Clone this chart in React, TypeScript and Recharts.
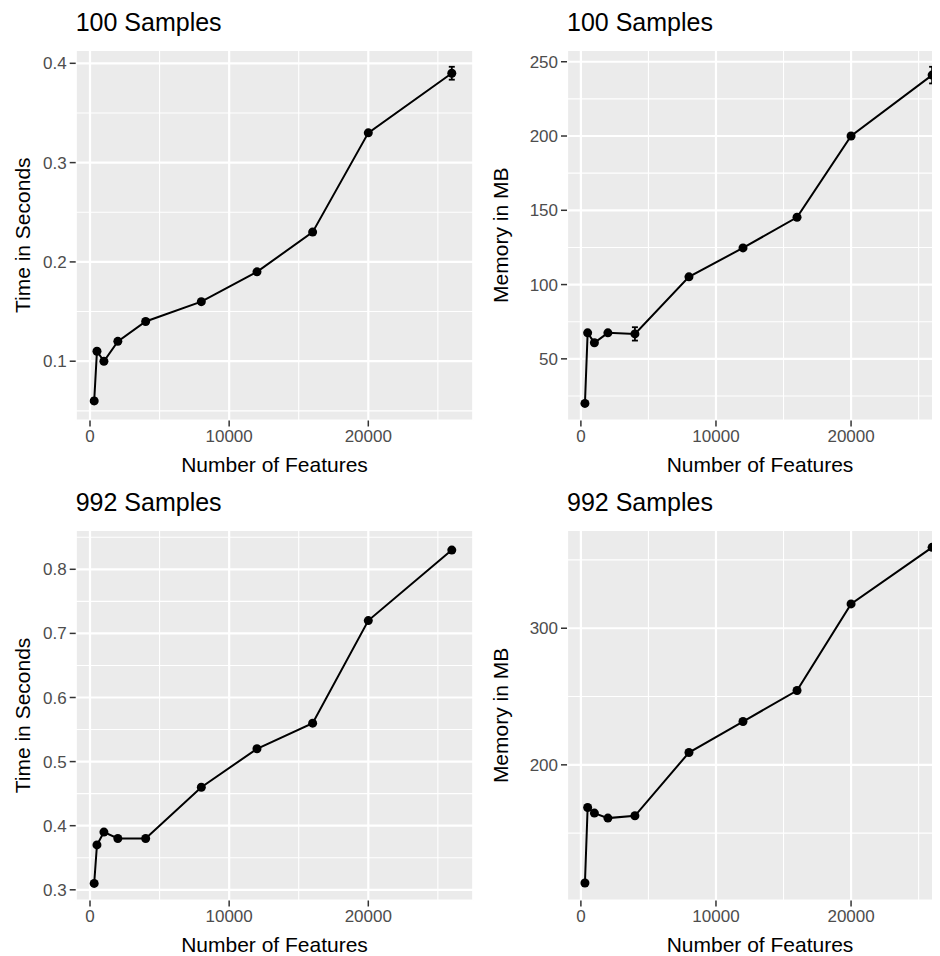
import React from 'react';
import { LineChart, Line, XAxis, YAxis, CartesianGrid, ErrorBar } from 'recharts';

// ---- data ----
const features = [300, 500, 1000, 2000, 4000, 8000, 12000, 16000, 20000, 26000];

const time100 = [0.06, 0.11, 0.1, 0.12, 0.14, 0.16, 0.19, 0.23, 0.33, 0.39];
const time100Err = [0.0025, 0.002, 0.002, 0.002, 0.002, 0.002, 0.002, 0.002, 0.002, 0.0065];

const mem100 = [20, 67.5, 60.8, 67.5, 66.8, 105.2, 124.7, 145.3, 200, 241];
const mem100Err = [0.5, 1, 1, 1, 4.5, 1, 1, 1, 1, 5.6];

const time992 = [0.31, 0.37, 0.39, 0.38, 0.38, 0.46, 0.52, 0.56, 0.72, 0.83];
const time992Err = [0.001, 0.002, 0.002, 0.002, 0.002, 0.002, 0.002, 0.002, 0.002, 0.002];

const mem992 = [113.5, 168.8, 164.7, 161, 162.7, 209, 231.7, 254.4, 317.8, 359.2];
const mem992Err = [0.5, 0.5, 0.5, 0.5, 0.5, 0.5, 0.5, 0.5, 0.5, 0.4];

const xTicks = [0, 10000, 20000];
const xMinorTicks = [5000, 15000, 25000];

const time100Ticks = [0.1, 0.2, 0.3, 0.4];
const time100Minor = [0.05, 0.15, 0.25, 0.35];
const mem100Ticks = [50, 100, 150, 200, 250];
const mem100Minor = [25, 75, 125, 175, 225];
const time992Ticks = [0.3, 0.4, 0.5, 0.6, 0.7, 0.8];
const time992Minor = [0.35, 0.45, 0.55, 0.65, 0.75, 0.85];
const mem992Ticks = [200, 300];
const mem992Minor = [150, 250, 350];

const titles = ['100 Samples', '100 Samples', '992 Samples', '992 Samples'];
const xTitle = 'Number of Features';
const yTitles = ['Time in Seconds', 'Memory in MB', 'Time in Seconds', 'Memory in MB'];

// ---- layout / style ----
const FONT = '"Liberation Sans", Arial, Helvetica, sans-serif';
const xDomain: [number, number] = [-1028, 27546];
const tickStyle = { fontSize: 17, fill: '#4D4D4D', fontFamily: FONT };
const tickLineStyle = { stroke: '#333333', strokeWidth: 1.5 };

type PanelProps = {
  values: number[];
  errors: number[];
  yDomain: [number, number];
  yTicks: number[];
  yMinor: number[];
  left: number;
  top: number;
  yAxisWidth: number;
  plotWidth: number;
};

function Panel({ values, errors, yDomain, yTicks, yMinor, left, top, yAxisWidth, plotWidth }: PanelProps) {
  const data = features.map((x, i) => ({ x, y: values[i], err: errors[i] }));
  const width = 480;
  const height = 480.5;
  return (
    <div style={{ position: 'absolute', left, top, width, height }}>
      <LineChart
        width={width}
        height={height}
        data={data}
        margin={{ top: 50, right: width - yAxisWidth - plotWidth, bottom: 0, left: 0 }}
      >
        <CartesianGrid fill="#EBEBEB" stroke="#FFFFFF" strokeWidth={2.2} />
        <CartesianGrid xAxisId="minor" yAxisId="minor" stroke="#FFFFFF" strokeWidth={1.1} />
        <XAxis
          dataKey="x"
          type="number"
          domain={xDomain}
          ticks={xTicks}
          allowDataOverflow
          interval={0}
          axisLine={false}
          tickLine={tickLineStyle}
          tickSize={6}
          tickMargin={3}
          height={60}
          tick={tickStyle}
        />
        <XAxis xAxisId="minor" dataKey="x" type="number" domain={xDomain} ticks={xMinorTicks} allowDataOverflow hide />
        <YAxis
          type="number"
          domain={yDomain}
          ticks={yTicks}
          allowDataOverflow
          interval={0}
          axisLine={false}
          tickLine={tickLineStyle}
          tickSize={6}
          tickMargin={3}
          width={yAxisWidth}
          tick={tickStyle}
        />
        <YAxis yAxisId="minor" type="number" domain={yDomain} ticks={yMinor} allowDataOverflow hide />
        <Line
          dataKey="y"
          type="linear"
          stroke="#000000"
          strokeWidth={2}
          dot={{ r: 4.5, fill: '#000000', stroke: '#000000', strokeWidth: 0 }}
          activeDot={false}
          isAnimationActive={false}
        >
          <ErrorBar dataKey="err" width={3} stroke="#000000" strokeWidth={1.8} direction="y" />
        </Line>
      </LineChart>
    </div>
  );
}

const rowTop = [0, 480.2];
const colLeft = [0, 480];
const colAxisWidth = [75.7, 87];
const colPlotWidth = [397.6, 386];

export default function App() {
  const plotCenterX = [75.7 + 397.6 / 2, 480 + 87 + 386 / 2];
  const plotLeft = [75.7, 567];
  const panelCenterY = [50 + 370.5 / 2, 480.2 + 50 + 370.5 / 2];
  const yTitleX = [29.5, 508.3];
  return (
    <div
      style={{
        position: 'relative',
        width: 940,
        height: 956,
        margin: '-8px 0 0 -8px',
        overflow: 'hidden',
        background: '#FFFFFF',
        fontFamily: FONT,
      }}
    >
      <Panel values={time100} errors={time100Err} yDomain={[0.0403, 0.4134]} yTicks={time100Ticks} yMinor={time100Minor}
        left={colLeft[0]} top={rowTop[0]} yAxisWidth={colAxisWidth[0]} plotWidth={colPlotWidth[0]} />
      <Panel values={mem100} errors={mem100Err} yDomain={[8.5, 257.9]} yTicks={mem100Ticks} yMinor={mem100Minor}
        left={colLeft[1]} top={rowTop[0]} yAxisWidth={colAxisWidth[1]} plotWidth={colPlotWidth[1]} />
      <Panel values={time992} errors={time992Err} yDomain={[0.2833, 0.8613]} yTicks={time992Ticks} yMinor={time992Minor}
        left={colLeft[0]} top={rowTop[1]} yAxisWidth={colAxisWidth[0]} plotWidth={colPlotWidth[0]} />
      <Panel values={mem992} errors={mem992Err} yDomain={[100.7, 371.9]} yTicks={mem992Ticks} yMinor={mem992Minor}
        left={colLeft[1]} top={rowTop[1]} yAxisWidth={colAxisWidth[1]} plotWidth={colPlotWidth[1]} />
      <svg width={940} height={956} style={{ position: 'absolute', left: 0, top: 0, pointerEvents: 'none' }}>
        {[0, 1].map((r) =>
          [0, 1].map((c) => {
            const idx = r * 2 + c;
            return (
              <g key={idx} fontFamily={FONT}>
                <text x={plotLeft[c]} y={rowTop[r] + 30.5} fontSize={25} fill="#000000">
                  {titles[idx]}
                </text>
                <text x={plotCenterX[c]} y={rowTop[r] + 472} fontSize={21} fill="#000000" textAnchor="middle">
                  {xTitle}
                </text>
                <text
                  x={0}
                  y={0}
                  transform={`translate(${yTitleX[c]}, ${panelCenterY[r]}) rotate(-90)`}
                  fontSize={21}
                  fill="#000000"
                  textAnchor="middle"
                >
                  {yTitles[idx]}
                </text>
              </g>
            );
          })
        )}
      </svg>
    </div>
  );
}
